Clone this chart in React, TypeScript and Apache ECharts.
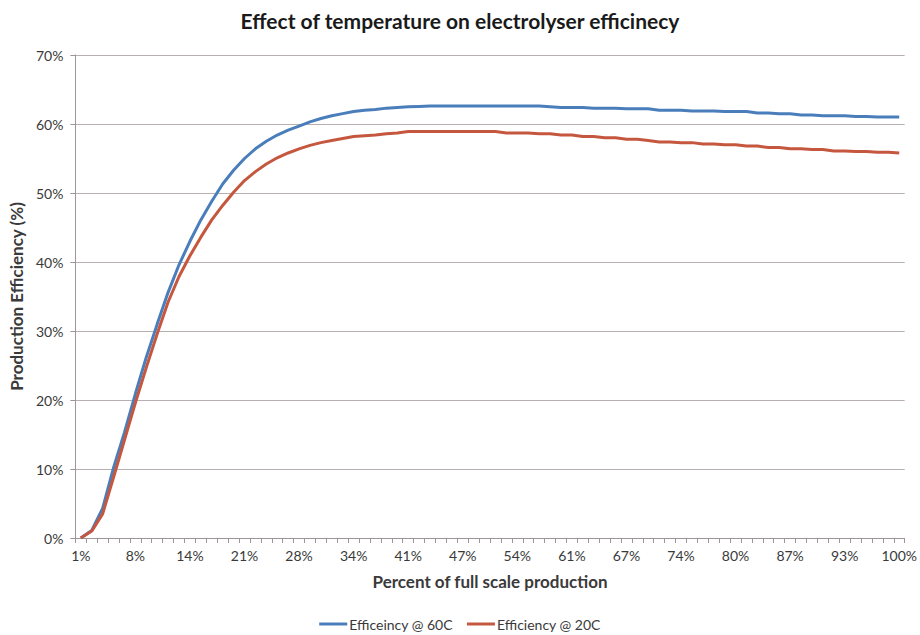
import React, { useEffect, useRef } from "react";
import * as echarts from "echarts";

const chartTitle = "Effect of temperature on electrolyser efficinecy";
const xAxisName = "Percent of full scale production";
const yAxisName = "Production Efficiency (%)";
const seriesNames = ["Efficeincy @ 60C", "Efficiency @ 20C"];
const seriesColors = ["#4A7EBB", "#C5573F"];

// one tick label every 5 categories
const xTickLabels = ["1%", "8%", "14%", "21%", "28%", "34%", "41%", "47%", "54%", "61%", "67%", "74%", "80%", "87%", "93%", "100%"];
const categoriesPerLabel = 5;
const categories = Array.from({ length: 76 }, (_, i) => `p${i}`);

const eff60C = [
  0, 1.1, 4.3, 10.2, 15.3, 20.9, 26.2, 31.0, 35.6, 39.6,
  43.0, 46.1, 48.8, 51.3, 53.3, 55.0, 56.4, 57.5, 58.4, 59.1,
  59.7, 60.3, 60.8, 61.2, 61.5, 61.8, 62.0, 62.1, 62.3, 62.4,
  62.5, 62.55, 62.6, 62.6, 62.6, 62.6, 62.6, 62.6, 62.6, 62.6,
  62.6, 62.6, 62.6, 62.5, 62.4, 62.4, 62.4, 62.3, 62.3, 62.3,
  62.2, 62.2, 62.2, 62.0, 62.0, 62.0, 61.9, 61.9, 61.9, 61.8,
  61.8, 61.8, 61.6, 61.6, 61.5, 61.5, 61.3, 61.3, 61.2, 61.2,
  61.2, 61.1, 61.1, 61.0, 61.0, 61.0,
];

const eff20C = [
  0, 1.0, 3.5, 8.8, 14.2, 19.6, 24.7, 29.6, 34.2, 37.9,
  40.9, 43.6, 46.1, 48.2, 50.1, 51.8, 53.1, 54.2, 55.1, 55.8,
  56.4, 56.9, 57.3, 57.6, 57.9, 58.2, 58.3, 58.4, 58.6, 58.7,
  58.9, 58.9, 58.9, 58.9, 58.9, 58.9, 58.9, 58.9, 58.9, 58.7,
  58.7, 58.7, 58.6, 58.6, 58.4, 58.4, 58.2, 58.2, 58.0, 58.0,
  57.8, 57.8, 57.6, 57.4, 57.4, 57.3, 57.3, 57.1, 57.1, 57.0,
  57.0, 56.8, 56.8, 56.6, 56.6, 56.4, 56.4, 56.3, 56.3, 56.1,
  56.1, 56.0, 56.0, 55.9, 55.9, 55.8,
];

const FONT = "Lato";
const TEXT = "#3a3a3a";

export default function App() {
  const ref = useRef<HTMLDivElement>(null);

  useEffect(() => {
    if (!ref.current) return;
    const chart = echarts.init(ref.current, undefined, { renderer: "svg" });
    chart.setOption({
      animation: false,
      backgroundColor: "#ffffff",
      textStyle: { fontFamily: FONT },
      title: {
        text: chartTitle,
        left: "center",
        top: 5,
        textStyle: { fontFamily: FONT, fontSize: 21, fontWeight: "bold", color: "#1a1a1a" },
      },
      legend: {
        top: 612,
        left: "center",
        itemWidth: 28,
        itemHeight: 3,
        itemGap: 14,
        icon: "rect",
        textStyle: { fontFamily: FONT, fontSize: 14, color: TEXT, padding: [0, 0, 0, -3] },
        data: seriesNames,
      },
      grid: { left: 73, right: 13, top: 55, bottom: 97, containLabel: false },
      xAxis: {
        type: "category",
        data: categories,
        boundaryGap: true,
        name: xAxisName,
        nameLocation: "middle",
        nameGap: 35,
        nameTextStyle: { fontFamily: FONT, fontSize: 17, fontWeight: "bold", color: TEXT },
        axisLine: { show: true, lineStyle: { color: "#9e9696", width: 1 } },
        axisTick: { show: true, interval: 0, length: 5, lineStyle: { color: "#9e9696" } },
        axisLabel: {
          interval: categoriesPerLabel - 1,
          margin: 10,
          fontFamily: FONT,
          fontSize: 14,
          color: TEXT,
          formatter: (_v: string, idx: number) =>
            idx % categoriesPerLabel === 0 ? xTickLabels[idx / categoriesPerLabel] : "",
        },
        splitLine: { show: false },
      },
      yAxis: {
        type: "value",
        min: 0,
        max: 70,
        interval: 10,
        name: yAxisName,
        nameLocation: "middle",
        nameGap: 44,
        nameTextStyle: { fontFamily: FONT, fontSize: 17, fontWeight: "bold", color: TEXT },
        axisLine: { show: true, lineStyle: { color: "#9e9696", width: 1 } },
        axisTick: { show: true, length: 5, lineStyle: { color: "#9e9696" } },
        axisLabel: {
          margin: 12,
          fontFamily: FONT,
          fontSize: 14,
          color: TEXT,
          formatter: (v: number) => `${v}%`,
        },
        splitLine: { show: true, lineStyle: { color: "#b8b0b0", width: 1 } },
      },
      series: [
        {
          name: seriesNames[0],
          type: "line",
          data: eff60C,
          symbol: "none",
          lineStyle: { color: seriesColors[0], width: 3 },
          itemStyle: { color: seriesColors[0] },
        },
        {
          name: seriesNames[1],
          type: "line",
          data: eff20C,
          symbol: "none",
          lineStyle: { color: seriesColors[1], width: 3 },
          itemStyle: { color: seriesColors[1] },
        },
      ],
    });
    return () => chart.dispose();
  }, []);

  return (
    <div
      ref={ref}
      style={{ position: "fixed", left: 0, top: 0, width: 920, height: 635 }}
    />
  );
}
